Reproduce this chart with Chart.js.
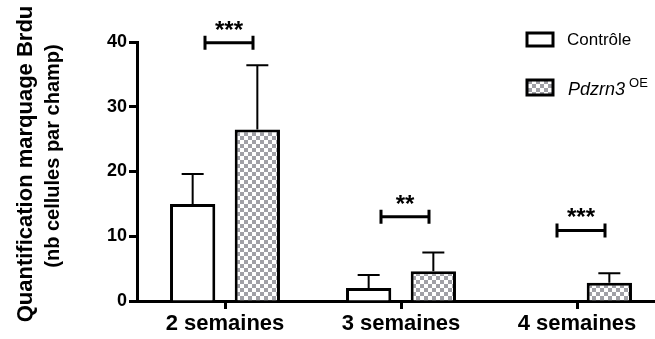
<!DOCTYPE html>
<html>
<head>
<meta charset="utf-8">
<script src="https://cdn.jsdelivr.net/npm/chart.js@4"></script>
<style>
  html, body { margin: 0; padding: 0; background: #ffffff; overflow: hidden; }
  #wrap { width: 680px; height: 339px; }
</style>
</head>
<body>
<div id="wrap"><canvas id="chart_1" width="680" height="339"></canvas></div>
<script>
const categories = ["2 semaines", "3 semaines", "4 semaines"];
const controleMean = [15.0, 2.0, 0];
const controleErr = [4.6, 2.0, 0];
const pdzrnMean = [26.5, 4.6, 2.8];
const pdzrnErr = [9.9, 2.9, 1.5];
const sigLabels = ["***", "**", "***"];
const sigLevels = [39.9, 13.0, 10.9];
const yTicks = [0, 10, 20, 30, 40];

const FONT = "'Liberation Sans', Arial, sans-serif";

// checker pattern for the Pdzrn3 bars
function makeChecker() {
  const c = document.createElement("canvas");
  c.width = 8;
  c.height = 8;
  const g = c.getContext("2d");
  g.fillStyle = "#ffffff";
  g.fillRect(0, 0, 8, 8);
  g.fillStyle = "#a0a0a6";
  g.fillRect(0, 0, 4, 4);
  g.fillRect(4, 4, 4, 4);
  return g.createPattern(c, "repeat");
}
const checker = makeChecker();

const errorBars = {
  id: "errorBars",
  afterDatasetsDraw(chart) {
    const ctx = chart.ctx;
    const y = chart.scales.y;
    const errs = [controleErr, pdzrnErr];
    const means = [controleMean, pdzrnMean];
    ctx.save();
    ctx.strokeStyle = "#000";
    ctx.lineWidth = 2;
    for (let d = 0; d < 2; d++) {
      chart.getDatasetMeta(d).data.forEach((bar, i) => {
        if (!errs[d][i]) return;
        const top = y.getPixelForValue(means[d][i] + errs[d][i]);
        const base = y.getPixelForValue(means[d][i]);
        ctx.beginPath();
        ctx.moveTo(bar.x, base);
        ctx.lineTo(bar.x, top);
        ctx.moveTo(bar.x - 11, top);
        ctx.lineTo(bar.x + 11, top);
        ctx.stroke();
      });
    }
    ctx.restore();
  },
};

const extras = {
  id: "extras",
  afterDraw(chart) {
    const ctx = chart.ctx;
    const x = chart.scales.x;
    const y = chart.scales.y;
    ctx.save();
    ctx.fillStyle = "#000";
    ctx.strokeStyle = "#000";

    // significance brackets
    sigLabels.forEach((lab, i) => {
      const cx = x.getPixelForValue(i);
      const yy = y.getPixelForValue(sigLevels[i]);
      const x0 = cx - 20, x1 = cx + 28;
      ctx.lineWidth = 3;
      ctx.beginPath();
      ctx.moveTo(x0, yy);
      ctx.lineTo(x1, yy);
      ctx.moveTo(x0, yy - 7);
      ctx.lineTo(x0, yy + 7);
      ctx.moveTo(x1, yy - 7);
      ctx.lineTo(x1, yy + 7);
      ctx.stroke();
      ctx.font = "bold 24px " + FONT;
      ctx.textAlign = "center";
      ctx.textBaseline = "alphabetic";
      ctx.fillText(lab, (x0 + x1) / 2, yy - 5);
    });

    // y axis title, two lines
    ctx.textAlign = "center";
    ctx.textBaseline = "middle";
    ctx.save();
    ctx.font = "bold 22px " + FONT;
    ctx.translate(26, 164);
    ctx.rotate(-Math.PI / 2);
    ctx.fillText("Quantification marquage Brdu", 0, 0);
    ctx.restore();
    ctx.save();
    ctx.font = "bold 20px " + FONT;
    ctx.translate(53, 156);
    ctx.rotate(-Math.PI / 2);
    ctx.fillText("(nb cellules par champ)", 0, 0);
    ctx.restore();

    // legend
    ctx.lineWidth = 3;
    ctx.fillStyle = "#ffffff";
    ctx.fillRect(527, 33, 26, 13);
    ctx.strokeRect(527, 33, 26, 13);
    ctx.fillStyle = checker;
    ctx.fillRect(527, 80, 26, 15);
    ctx.strokeRect(527, 80, 26, 15);
    ctx.fillStyle = "#000";
    ctx.textAlign = "left";
    ctx.textBaseline = "middle";
    ctx.font = "17px " + FONT;
    ctx.fillText("Contrôle", 567, 40);
    ctx.font = "italic 18px " + FONT;
    ctx.fillText("Pdzrn3", 568, 90);
    const w = ctx.measureText("Pdzrn3").width;
    ctx.font = "13px " + FONT;
    ctx.fillText("OE", 568 + w + 4, 83);
    ctx.restore();
  },
};

const ctx = document.getElementById("chart_1").getContext("2d");
window.myChart = new Chart(ctx, {
  type: "bar",
  data: {
    labels: categories,
    datasets: [
      {
        label: "Contrôle",
        data: controleMean,
        backgroundColor: "#ffffff",
        borderColor: "#000000",
        borderWidth: 3,
        categoryPercentage: 0.735,
        barPercentage: 0.7,
      },
      {
        label: "Pdzrn3 OE",
        data: pdzrnMean,
        backgroundColor: checker,
        borderColor: "#000000",
        borderWidth: 3,
        categoryPercentage: 0.735,
        barPercentage: 0.7,
      },
    ],
  },
  options: {
    responsive: false,
    animation: false,
    layout: { padding: { top: 42, right: 15, left: 0, bottom: 0 } },
    scales: {
      x: {
        afterFit: (scale) => { scale.height = 38; },
        grid: {
          display: true,
          offset: false,
          drawOnChartArea: false,
          tickLength: 8,
          tickWidth: 3,
          tickColor: "#000",
        },
        border: { display: true, width: 3, color: "#000" },
        ticks: {
          color: "#000",
          padding: 2,
          font: { family: FONT, size: 22, weight: "bold" },
        },
      },
      y: {
        min: 0,
        max: 40,
        afterFit: (scale) => { scale.width = 137; },
        afterBuildTicks: (scale) => { scale.ticks = yTicks.map((v) => ({ value: v })); },
        grid: {
          display: true,
          drawOnChartArea: false,
          tickLength: 8,
          tickWidth: 3,
          tickColor: "#000",
        },
        border: { display: true, width: 3, color: "#000" },
        ticks: {
          color: "#000",
          padding: 2,
          font: { family: FONT, size: 18, weight: "bold" },
        },
      },
    },
    plugins: {
      legend: { display: false },
      tooltip: { enabled: false },
    },
  },
  plugins: [errorBars, extras],
});
</script>
</body>
</html>
